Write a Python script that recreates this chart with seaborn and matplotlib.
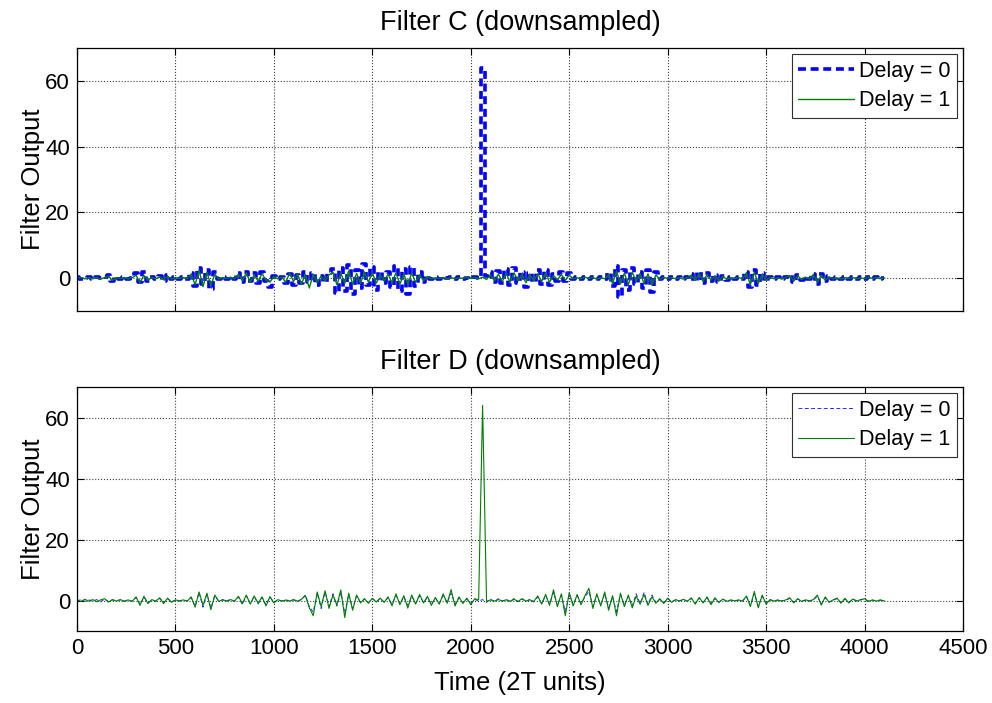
import matplotlib
matplotlib.use('Agg')
import matplotlib.pyplot as plt
import seaborn as sns
import pandas as pd
import numpy as np

# sample times (2T units), one value every 20 units
time = np.arange(0, 4101, 20)

# Filter C, delay = 0
filter_c_d0 = [
    0.2, -0.3, 0.1, 0.3, -0.2, 0.2, -0.1, 0.3, 1.0, -0.8,
    0.3, -0.2, 0.2, -0.3, 0.1, 1.5, -1.2, 1.8, -0.9, 0.4,
    -0.3, 0.5, -0.8, 0.9, -0.4, 0.3, -0.2, 0.3, -0.3, 1.5,
    -2.5, 3.2, -1.8, 2.6, -3.4, 1.9, -0.4, 0.3, -0.2, 0.4,
    -0.3, 1.5, -1.2, 2.0, -0.8, 1.6, -1.4, 1.8, -1.0, -2.6,
    0.8, -0.3, 0.2, -1.6, 1.2, -2.0, 0.9, -1.5, 1.8, -1.1,
    1.6, -2.2, 0.8, -1.2, 1.5, 2.8, -4.5, 3.2, -3.8, 3.9,
    -4.8, 2.6, -3.0, 4.3, -2.2, 3.5, -3.6, 2.0, -1.5, 1.8,
    -2.8, 3.8, -4.0, 2.9, -4.9, 3.3, -2.5, 1.9, -1.2, 0.8,
    -0.3, 0.2, -0.2, 0.3, -0.1, 0.2, -0.3, 0.2, -0.2, 0.1,
    -0.2, 0.3, -0.1, 64.0, 0.5, 1.8, -1.2, 2.2, -1.6, 2.8,
    -2.0, 3.2, -1.4, 2.0, -2.6, 1.6, -1.2, 2.4, -1.8, 2.6,
    -2.2, 1.4, -0.8, 2.0, -1.0, 1.5, -0.3, 0.2, -0.3, 0.4,
    -0.2, 0.3, -0.4, 0.2, -0.3, 1.6, -2.4, 3.8, -5.6, 2.5,
    -3.5, 3.2, -1.8, 2.0, -3.0, 2.4, -4.3, 1.8, -0.4, 0.3,
    -0.2, 0.3, -0.3, 0.2, -0.4, 0.3, 1.2, -0.9, 1.8, -1.4,
    1.5, -0.8, 1.0, -1.2, 0.8, -0.6, 0.3, -0.2, 0.3, -0.4,
    1.8, -2.8, 2.4, -2.2, 1.6, -1.0, 0.4, -0.3, 0.2, -0.4,
    0.3, 1.0, -1.2, 0.9, -0.5, 0.4, -0.3, 1.4, -1.8, 1.2,
    -0.8, 0.6, -0.3, 0.2, -0.4, 0.3, -0.2, 0.3, -0.3, 0.2,
    -0.3, 0.4, -0.2, 0.3, -0.3, 0.1,
]

# Filter C, delay = 1
filter_c_d1 = [
    -0.1, 0.2, -0.2, 0.1, -0.2, 0.2, -0.3, 0.2, 0.6, -0.7,
    0.2, -0.1, 0.2, -0.2, 0.1, 0.9, -1.3, 0.8, -0.6, 0.2,
    -0.2, 0.4, -0.5, 0.6, -0.3, 0.2, -0.1, 0.2, -0.2, 1.2,
    -2.0, 2.5, -2.6, 1.8, -2.2, 1.2, -0.3, 0.2, -0.1, 0.3,
    -0.2, 1.2, -0.8, 1.6, -1.3, 1.0, -0.9, 1.4, -0.7, -1.2,
    0.5, -0.2, 0.3, -1.2, 1.5, -1.0, 1.3, -1.8, 1.1, -3.0,
    1.2, -1.4, 0.6, -0.8, 1.0, 1.8, -2.0, 1.5, -1.6, 2.2,
    -1.8, 1.4, -1.6, 1.9, -1.2, 1.6, -1.5, 1.0, -0.9, 1.2,
    -1.4, 1.6, -1.8, 1.2, -1.9, 1.5, -1.2, 1.0, -0.8, 0.5,
    -0.2, 0.1, -0.1, 0.2, -0.2, 0.1, -0.2, 0.1, -0.1, 0.2,
    -0.1, 0.2, -0.2, 0.3, -0.4, 1.0, -0.8, 1.2, -1.0, 1.4,
    -1.2, 1.6, -0.9, 1.1, -1.4, 1.0, -0.8, 1.3, -1.0, 1.5,
    -1.2, 0.8, -0.5, 1.1, -0.6, 0.9, -0.2, 0.1, -0.2, 0.3,
    -0.1, 0.2, -0.3, 0.1, -0.2, 1.0, -1.6, 2.2, -1.8, 1.5,
    -2.0, 1.8, -1.0, 1.4, -1.6, 1.3, -2.2, 1.0, -0.3, 0.2,
    -0.1, 0.2, -0.2, 0.1, -0.3, 0.2, 0.9, -0.7, 1.3, -1.0,
    1.1, -0.6, 0.7, -0.9, 0.6, -0.4, 0.2, -0.1, 0.2, -0.3,
    1.6, -2.0, 1.8, -1.6, 1.2, -0.7, 0.3, -0.2, 0.1, -0.3,
    0.2, 0.8, -0.9, 0.7, -0.4, 0.3, -0.2, 1.1, -1.3, 0.9,
    -0.6, 0.4, -0.2, 0.1, -0.3, 0.2, -0.1, 0.2, -0.2, 0.1,
    -0.2, 0.3, -0.1, 0.2, -0.2, 0.1,
]

# Filter D, delay = 0
filter_d_d0 = [
    -0.2, 0.3, -0.3, 0.2, -0.2, 0.3, -0.4, 0.5, -0.4, 0.2,
    -0.1, 0.2, -0.3, 0.1, -0.2, 1.0, -1.2, 1.1, -0.8, 0.2,
    -0.3, 0.7, -0.8, 0.6, -0.4, 0.1, -0.2, 0.1, -0.1, 1.0,
    -1.8, 2.6, -2.2, 2.0, -2.4, 1.5, -0.2, 0.3, -0.2, 0.2,
    -0.3, 1.2, -1.3, 1.5, -1.0, 1.3, -1.1, 1.0, -1.4, 1.1,
    -0.6, 0.2, -0.1, 0.2, -0.1, 0.2, -0.3, 0.3, 1.8, -2.0,
    -3.8, 2.4, -2.6, 2.8, -2.0, 2.2, -1.8, 2.6, -4.2, 2.0,
    -2.6, 1.5, -0.6, 0.5, -0.7, 0.6, -0.4, 0.6, -0.5, 1.0,
    -1.2, 1.6, -1.0, 1.2, -1.6, 1.4, -0.9, 1.5, -0.6, 1.0,
    -1.2, 0.8, -0.9, 1.6, -0.7, 2.4, -1.2, 0.9, -0.7, 0.5,
    -0.9, 0.4, -0.2, 0.3, -0.6, 0.5, -0.4, 0.6, -0.3, 0.4,
    -0.5, 0.7, -0.4, 0.5, -0.3, 0.4, -0.5, 1.2, -1.0, 1.6,
    -1.2, 2.6, -1.6, 1.8, -3.6, 2.0, -1.4, 1.6, -1.0, 1.2,
    3.0, -2.0, 1.8, -1.4, 2.2, -2.4, 1.2, -3.6, 2.0, -1.5,
    1.4, -1.8, 2.2, -1.0, 2.6, -1.2, 1.8, -0.7, 0.4, -0.8,
    0.6, -0.4, 0.2, -0.1, 0.3, -0.2, 0.7, -0.9, 0.8, -0.6,
    0.9, -1.0, 0.7, -0.5, 0.4, -0.2, 0.1, -0.2, 0.1, -0.1,
    1.2, -1.6, 2.2, -1.8, 1.4, -0.9, 0.2, -0.1, 0.2, -0.1,
    0.1, 0.7, -0.6, 0.5, -0.2, 0.1, -0.2, 0.2, 1.4, -1.2,
    0.9, -0.5, 0.1, 0.6, -0.7, 0.5, -0.6, 0.4, -0.1, 0.2,
    0.4, -0.2, 0.1, -0.1, 0.2, -0.1,
]

# Filter D, delay = 1
filter_d_d1 = [
    0.2, -0.3, 0.4, -0.2, 0.3, -0.4, 0.2, 0.6, -0.5, 0.3,
    -0.2, 0.3, -0.2, 0.2, -0.3, 1.2, -1.6, 1.4, -1.0, 0.3,
    -0.2, 0.9, -1.0, 0.8, -0.6, 0.2, -0.1, 0.2, -0.2, 1.2,
    -2.2, 2.8, -1.6, 2.4, -3.0, 1.8, -0.3, 0.2, -0.1, 0.3,
    -0.2, 1.4, -1.0, 1.8, -1.2, 1.5, -0.9, 1.2, -1.8, 1.3,
    -0.8, 0.3, -0.2, 0.1, -0.2, 0.3, -0.2, 0.4, 1.6, -2.4,
    -5.0, 2.8, -2.0, 3.2, -2.6, 1.8, -1.5, 3.5, -5.6, 2.4,
    -3.2, 1.8, -0.8, 0.6, -0.9, 0.7, -0.5, 0.8, -0.6, 1.2,
    -1.8, 2.2, -1.4, 1.6, -2.5, 1.8, -1.2, 2.0, -0.8, 1.4,
    -1.6, 1.0, -1.2, 2.2, -0.9, 3.6, -1.8, 1.2, -1.0, 0.8,
    -1.4, 0.6, 0.2, 64.0, -0.3, 0.2, -0.2, 0.3, -0.1, 0.2,
    -0.2, 0.4, -0.3, 0.6, -0.2, 0.2, -0.3, 1.5, -1.2, 2.0,
    -1.6, 3.5, -2.0, 2.2, -5.0, 2.6, -1.8, 2.0, -1.4, 1.6,
    4.0, -2.6, 2.2, -1.8, 2.8, -3.2, 1.6, -5.0, 2.4, -2.0,
    1.8, -2.4, 1.5, -1.2, 2.0, -1.6, 1.2, -0.9, 0.6, -1.0,
    0.8, -0.6, 0.3, -0.2, 0.4, -0.3, 0.9, -1.2, 1.0, -0.8,
    1.2, -1.4, 0.9, -0.7, 0.5, -0.3, 0.2, -0.1, 0.2, -0.2,
    1.5, -2.0, 3.0, -2.4, 1.8, -1.2, 0.3, -0.2, 0.1, -0.2,
    0.2, 0.9, -0.8, 0.6, -0.3, 0.2, -0.1, 0.3, 1.8, -1.5,
    1.2, -0.6, 0.2, 0.8, -0.9, 0.7, -0.8, 0.5, -0.2, 0.3,
    0.6, -0.3, 0.2, -0.2, 0.1, -0.1,
]

x_ticks = [0, 500, 1000, 1500, 2000, 2500, 3000, 3500, 4000, 4500]
y_ticks = [0, 20, 40, 60]

df_c = pd.DataFrame({'time': time, 'd0': filter_c_d0, 'd1': filter_c_d1})
df_d = pd.DataFrame({'time': time, 'd0': filter_d_d0, 'd1': filter_d_d1})

sns.set_style('ticks')
plt.rcParams['font.family'] = ['Liberation Sans', 'DejaVu Sans']
plt.rcParams['text.color'] = 'black'
plt.rcParams['axes.labelcolor'] = 'black'

blue = '#0000ff'
green = '#008000'

fig = plt.figure(figsize=(9.92, 7.03), dpi=100)
ax1 = fig.add_axes([0.0776, 0.5576, 0.8932, 0.3741])
ax2 = fig.add_axes([0.0776, 0.1024, 0.8932, 0.3471])

# top panel
sns.lineplot(data=df_c, x='time', y='d0', ax=ax1, color=blue,
             linewidth=2.6, linestyle=(0, (2.2, 1.3)), label='Delay = 0',
             drawstyle='steps-mid', estimator=None, sort=False)
sns.lineplot(data=df_c, x='time', y='d1', ax=ax1, color=green,
             linewidth=1.0, label='Delay = 1', estimator=None, sort=False)
ax1.set_title('Filter C (downsampled)', fontsize=19.5, pad=13)

# bottom panel
sns.lineplot(data=df_d, x='time', y='d0', ax=ax2, color='#2a2aff',
             linewidth=0.7, linestyle=(0, (4, 2.5)), label='Delay = 0',
             estimator=None, sort=False)
sns.lineplot(data=df_d, x='time', y='d1', ax=ax2, color=green,
             linewidth=0.8, label='Delay = 1', estimator=None, sort=False)
ax2.set_title('Filter D (downsampled)', fontsize=19.5, pad=13)
ax2.set_xlabel('Time (2T units)', fontsize=18.5, labelpad=9)

for ax in (ax1, ax2):
    ax.set_xlim(0, 4500)
    ax.set_ylim(-10, 70)
    ax.set_xticks(x_ticks)
    ax.set_yticks(y_ticks)
    ax.set_ylabel('Filter Output', fontsize=18.5, labelpad=0)
    ax.grid(True, linestyle=':', color='#404040', linewidth=0.8)
    ax.tick_params(direction='in', length=5, width=0.8, labelsize=16,
                   top=True, right=True, colors='black', pad=5)
    for sp in ax.spines.values():
        sp.set_visible(True)
        sp.set_color('black')
        sp.set_linewidth(0.9)
    leg = ax.legend(loc='upper right', fontsize=15.5, frameon=True,
                    fancybox=False, edgecolor='#303030', framealpha=1,
                    handlelength=2.6, handletextpad=0.2, borderpad=0.3,
                    labelspacing=0.38, borderaxespad=0.3)
    leg.get_frame().set_linewidth(0.8)

ax1.set_xlabel('')
ax1.set_xticklabels([])

fig.savefig('out.png', dpi=100)
